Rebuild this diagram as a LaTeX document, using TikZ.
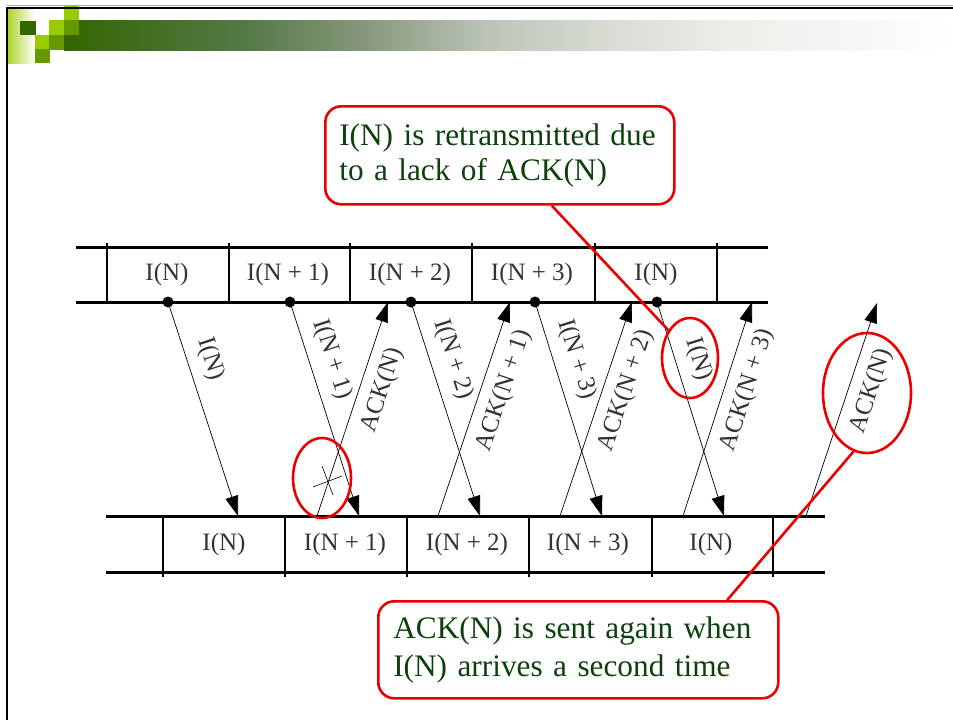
\documentclass[tikz,border=0pt]{standalone}
\usepackage{fontspec}
\setmainfont{Liberation Serif}
\usepackage{xcolor}
\usepackage{tikz}
\usetikzlibrary{positioning,arrows.meta,shapes.geometric}

\definecolor{leafdark}{RGB}{51,102,0}
\definecolor{leafmid}{RGB}{102,153,0}
\definecolor{leaflight}{RGB}{153,204,0}
\definecolor{fadeA}{RGB}{84,120,70}
\definecolor{fadeB}{RGB}{135,152,125}
\definecolor{fadeC}{RGB}{188,196,183}
\definecolor{fadeD}{RGB}{216,220,212}
\definecolor{fadeE}{RGB}{236,238,233}
\definecolor{notegreen}{RGB}{12,64,12}
\definecolor{notered}{RGB}{235,0,0}

% title bar gradient, dark green fading out to the right
\pgfdeclarehorizontalshading{bannerfade}{100bp}{%
  color(0bp)=(leafdark); color(25bp)=(leafdark); color(35bp)=(fadeA);
  color(42bp)=(fadeB); color(48.75bp)=(fadeC); color(55.5bp)=(fadeD);
  color(62.5bp)=(fadeE); color(75bp)=(white); color(100bp)=(white)}

\begin{document}
\begin{tikzpicture}[x=1pt,y=-1pt,
  track/.style={line width=3pt},
  slot/.style={line width=2pt},
  frame label/.style={font=\fontsize{25}{25}\selectfont, text=black!80},
  msg/.style={line width=0.7pt, -{Triangle[length=20pt,width=13pt]}},
  msg label/.style={sloped, font=\fontsize{25}{25}\selectfont, text=black!80, inner sep=2pt},
  note/.style={draw=notered, line width=2.6pt, rounded corners=16pt, text=notegreen,
    align=left, inner xsep=14pt, anchor=north west},
  hilite/.style={draw=notered, line width=2.6pt, ellipse, inner sep=0pt},
  pointer/.style={draw=notered, line width=2.6pt}]
\useasboundingbox (0,0) rectangle (953,720);
\fill[white] (0,0) rectangle (953,720);

% Slide decoration
\shade[shading=bannerfade] (64,20) rectangle (953,50);
\shade[left color=leaflight!85!white, right color=white] (7,9) rectangle (35,63);
\fill[leafdark] (20,21) rectangle (36,35);
\fill[leaflight] (49,20) rectangle (64,35);
\fill[leaflight] (64,6) rectangle (79,20);
\fill[leafmid] (64,20) rectangle (79,35);
\fill[leaflight] (35,35) rectangle (49,49);
\fill[leafmid] (49,35) rectangle (64,50);
\fill[leafmid] (35,49) rectangle (50,63);
\draw[black!35, line width=0.8pt] (7,5.5) -- (953,5.5);
\draw[line width=2.6pt] (7,720) -- (7,8) -- (953,8);

% Sender line
\draw[track] (76,247) -- (768,247);
\draw[track] (76,302) -- (768,302);
\draw[slot] (107,243) -- (107,302);
\draw[slot] (229,243) -- (229,302);
\draw[slot] (350,243) -- (350,302);
\draw[slot] (472,243) -- (472,302);
\draw[slot] (595,243) -- (595,302);
\draw[slot] (717,243) -- (717,302);
\node[frame label] (topN) at (167,274) {I(N)};
\node[frame label] (topN1) at (288,274) {I(N + 1)};
\node[frame label] (topN2) at (410,274) {I(N + 2)};
\node[frame label] (topN3) at (532,274) {I(N + 3)};
\node[frame label] (topNb) at (656,274) {I(N)};

% Receiver line
\draw[track] (106,516) -- (825,516);
\draw[track] (106,572) -- (825,572);
\draw[slot] (163,516) -- (163,577);
\draw[slot] (285,516) -- (285,577);
\draw[slot] (407,516) -- (407,577);
\draw[slot] (529,516) -- (529,577);
\draw[slot] (652,516) -- (652,577);
\draw[slot] (773,516) -- (773,577);
\node[frame label] (botN) at (224,544) {I(N)};
\node[frame label] (botN1) at (345,544) {I(N + 1)};
\node[frame label] (botN2) at (467,544) {I(N + 2)};
\node[frame label] (botN3) at (588,544) {I(N + 3)};
\node[frame label] (botNb) at (711,544) {I(N)};

% Send points and arrival points
\coordinate (sN) at (168,302);
\coordinate (sN1) at (290,302);
\coordinate (sN2) at (411,302);
\coordinate (sN3) at (535,302);
\coordinate (sNb) at (657,302);
\coordinate (rN) at (238,516);
\coordinate (rN1) at (359,516);
\coordinate (rN2) at (480,516);
\coordinate (rN3) at (602,516);
\coordinate (rNb) at (724,516);
\fill (sN) circle (5.5pt);
\fill (sN1) circle (5.5pt);
\fill (sN2) circle (5.5pt);
\fill (sN3) circle (5.5pt);
\fill (sNb) circle (5.5pt);

% Acknowledgement start and end points
\coordinate (aN) at (317,516);
\coordinate (aN1) at (438,516);
\coordinate (aN2) at (560,516);
\coordinate (aN3) at (683,516);
\coordinate (aNb) at (806,516);
\coordinate (kN) at (388,302);
\coordinate (kN1) at (510,302);
\coordinate (kN2) at (632,302);
\coordinate (kN3) at (752,302);
\coordinate (kNb) at (877,303);

% Information frames
\draw[msg] (sN) -- (rN) node[msg label, pos=0.3, above=9pt] {I(N)};
\draw[msg] (sN1) -- (rN1) node[msg label, pos=0.3, above=9pt] {I(N + 1)};
\draw[msg] (sN2) -- (rN2) node[msg label, pos=0.3, above=9pt] {I(N + 2)};
\draw[msg] (sN3) -- (rN3) node[msg label, pos=0.3, above=9pt] {I(N + 3)};
\draw[msg] (sNb) -- (rNb) node[msg label, pos=0.3, above=9pt] {I(N)};

% Acknowledgements
\draw[msg] (aN) -- (kN) node[msg label, pos=0.62, below=9pt] {ACK(N)};
\draw[msg] (aN1) -- (kN1) node[msg label, pos=0.62, below=9pt] {ACK(N + 1)};
\draw[msg] (aN2) -- (kN2) node[msg label, pos=0.62, below=9pt] {ACK(N + 2)};
\draw[msg] (aN3) -- (kN3) node[msg label, pos=0.62, below=9pt] {ACK(N + 3)};
\draw[msg] (aNb) -- (kNb) node[msg label, pos=0.62, below=9pt] {ACK(N)};

% lost acknowledgement
\draw[line width=0.6pt] (313,487) -- (342,476);
\draw[line width=0.6pt] (322,466) -- (333,495);

% Remarks
\node[hilite, minimum width=58pt, minimum height=80pt] (lostmark) at (322,478) {};
\node[hilite, minimum width=56pt, minimum height=80pt] (retxmark) at (690,358) {};
\node[hilite, minimum width=88pt, minimum height=120pt] (ackmark) at (867,393) {};

\node[note, text width=321pt, minimum height=98pt, font=\fontsize{31.3}{35}\selectfont]
  (retxnote) at (324,105) {I(N) is retransmitted due\\to a lack of ACK(N)};
\node[note, text width=370pt, minimum height=97pt, inner xsep=15pt, font=\fontsize{31.3}{38}\selectfont]
  (acknote) at (377,600) {ACK(N) is sent again when\\I(N) arrives a second time};

\draw[pointer] ([xshift=52pt]retxnote.south) -- (retxmark.128);
\draw[pointer] ([xshift=149pt]acknote.north) -- (ackmark.-103);
\end{tikzpicture}
\end{document}
